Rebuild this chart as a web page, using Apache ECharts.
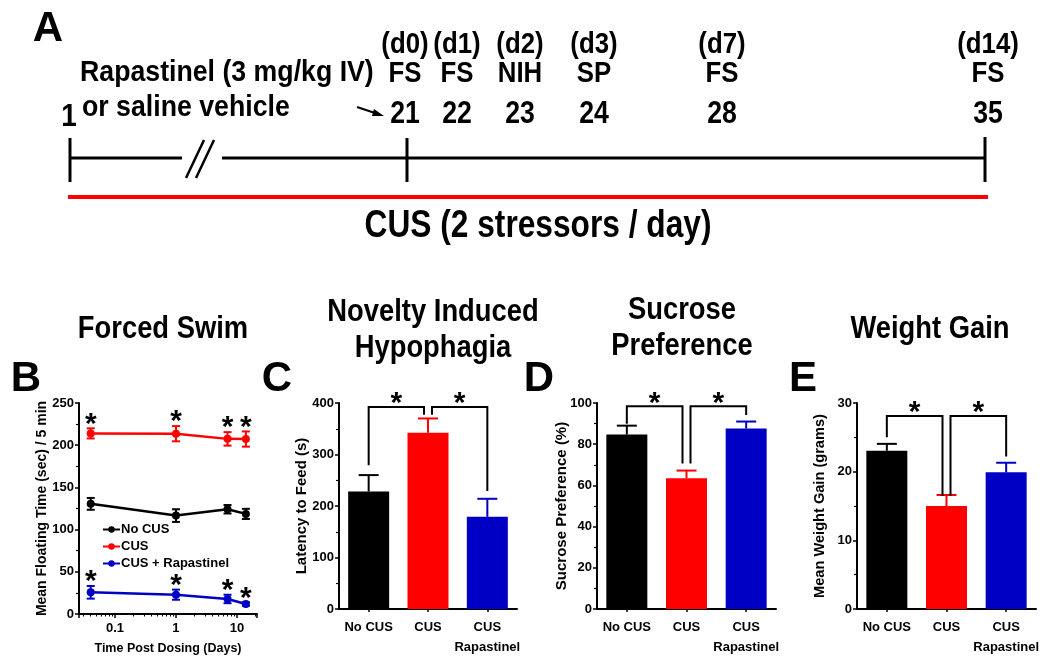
<!DOCTYPE html>
<html>
<head>
<meta charset="utf-8">
<script src="https://cdn.jsdelivr.net/npm/echarts@6/dist/echarts.min.js"></script>
<style>
  html, body { margin: 0; padding: 0; background: #fff; }
  #chart { width: 1050px; height: 657px; }
</style>
</head>
<body>
<div id="chart"></div>
<script>
// ---------- DATA ----------
// Panel A (timeline schematic)
const timelineDays = ['21', '22', '23', '24', '28', '35'];
const timelineTests = ['FS', 'FS', 'NIH', 'SP', 'FS', 'FS'];
const timelinePost = ['(d0)', '(d1)', '(d2)', '(d3)', '(d7)', '(d14)'];

// Panel B: Forced swim (time post dosing, days)
const fsDays = [0.04, 1, 7, 14];
const fsNoCUS = [130.5, 116.6, 124.1, 118.6];
const fsNoCUSErr = [7, 7.5, 5, 6];
const fsCUS = [214, 213.6, 207.5, 207.3];
const fsCUSErr = [6, 9, 8, 9];
const fsRap = [25.7, 22.9, 17.8, 11.8];
const fsRapErr = [7.5, 6, 5, 2];
const fsCUSSig = [1, 1, 1, 1];
const fsRapSig = [1, 1, 1, 1];

// Panels C-E: groups
const groups = ['No CUS', 'CUS', 'CUS\nRapastinel'];
const nihMean = [228, 342, 179];
const nihErr = [32, 28, 35];
const spMean = [84.7, 63.5, 87.6];
const spErr = [4.3, 3.7, 3.4];
const wgMean = [23.05, 15.0, 19.9];
const wgErr = [1.0, 1.6, 1.4];
// brackets: [fromGroup, toGroup, topValue, leftLegBottom, rightLegBottom]
const nihBrackets = [[0, 1, 392, 279, 377], [1, 2, 392, 377, 229]];
const spBrackets = [[0, 1, 98.4, 89.9, 70.6], [1, 2, 98.4, 70.6, 94.2]];
const wgBrackets = [[0, 1, 28.1, 25.0, 16.5], [1, 2, 28.1, 16.5, 22.2]];

// ---------- STYLE ----------
const FONT = "'Liberation Sans', Arial, sans-serif";
const BLACK = '#000000', RED = '#ff0000', BLUE = '#0000c4';
const groupColors = [BLACK, RED, BLUE];
const font = (size) => 'bold ' + size + 'px ' + FONT;
const LBL = 13;

const chart = echarts.init(document.getElementById('chart'), null, { renderer: 'canvas' });

function axisCommon() {
  return {
    axisLine: { show: true, lineStyle: { color: '#000', width: 2 } },
    axisTick: { show: true, length: 4, lineStyle: { color: '#000', width: 1.5 } },
    axisLabel: { color: '#000', fontWeight: 'bold', fontSize: LBL, fontFamily: FONT, margin: 5 },
    splitLine: { show: false }
  };
}
function yAxis(gi, max, interval, name, nameSize, gap) {
  return Object.assign(axisCommon(), {
    type: 'value', gridIndex: gi, min: 0, max: max, interval: interval,
    minorTick: { show: true, splitNumber: 2, length: 3, lineStyle: { color: '#000', width: 1.2 } },
    name: name, nameLocation: 'middle', nameRotate: 90, nameGap: gap, nameMoveOverlap: false,
    nameTextStyle: { color: '#000', fontWeight: 'bold', fontSize: nameSize, fontFamily: FONT }
  });
}
function catAxis(gi) {
  const a = axisCommon();
  a.axisTick = { show: true, alignWithLabel: true, length: 3, lineStyle: { color: '#000', width: 1.5 } };
  a.axisLabel = Object.assign(a.axisLabel, { interval: 0, lineHeight: 20, margin: 8 });
  return Object.assign(a, { type: 'category', gridIndex: gi, data: groups, boundaryGap: true });
}

function starText(x, y) {
  return { type: 'text', style: { text: '*', x: x, y: y, font: font(30), fill: '#000',
    align: 'center', verticalAlign: 'middle', textAlign: 'center', textVerticalAlign: 'middle' } };
}
// error bars for line chart (both directions) + significance
function lineErrRender(color, sig) {
  return function (params, api) {
    const x = api.value(0), lo = api.value(1), hi = api.value(2);
    const pHi = api.coord([x, hi]), pLo = api.coord([x, lo]);
    const hw = 4;
    const ls = { stroke: color, lineWidth: 2 };
    const ch = [
      { type: 'line', shape: { x1: pHi[0], y1: pHi[1], x2: pLo[0], y2: pLo[1] }, style: ls },
      { type: 'line', shape: { x1: pHi[0] - hw, y1: pHi[1], x2: pHi[0] + hw, y2: pHi[1] }, style: ls },
      { type: 'line', shape: { x1: pLo[0] - hw, y1: pLo[1], x2: pLo[0] + hw, y2: pLo[1] }, style: ls }
    ];
    if (sig[params.dataIndex]) ch.push(starText(pHi[0], pHi[1] - 4));
    return { type: 'group', children: ch };
  };
}
// upper-only error bars for bar charts
function barErrRender(params, api) {
  const i = api.value(0), m = api.value(1), hi = api.value(2);
  const pHi = api.coord([i, hi]), pM = api.coord([i, m]);
  const color = groupColors[i];
  const hw = 10;
  const ls = { stroke: color, lineWidth: 2 };
  return { type: 'group', children: [
    { type: 'line', shape: { x1: pM[0], y1: pM[1], x2: pHi[0], y2: pHi[1] }, style: ls },
    { type: 'line', shape: { x1: pHi[0] - hw, y1: pHi[1], x2: pHi[0] + hw, y2: pHi[1] }, style: ls }
  ] };
}
function bracketRender(all) {
  return function (params, api) {
    const i0 = api.value(0), i1 = api.value(1), top = api.value(2), b0 = api.value(3), b1 = api.value(4);
    const shared = (c) => all.filter(b => b[0] === c || b[1] === c).length > 1;
    const off0 = shared(i0) ? 4 : 0, off1 = shared(i1) ? -4 : 0;
    const pT0 = api.coord([i0, top]), pT1 = api.coord([i1, top]);
    const pB0 = api.coord([i0, b0]), pB1 = api.coord([i1, b1]);
    const x0 = pT0[0] + off0, x1 = pT1[0] + off1;
    const ls = { stroke: '#000', lineWidth: 2, fill: null };
    return { type: 'group', children: [
      { type: 'polyline', shape: { points: [[x0, pB0[1]], [x0, pT0[1]], [x1, pT1[1]], [x1, pB1[1]]] }, style: ls },
      starText((x0 + x1) / 2, pT0[1] - 3)
    ] };
  };
}

const fsPairs = (vals) => fsDays.map((d, i) => [d, vals[i]]);
const fsErrRows = (vals, errs) => fsDays.map((d, i) => [d, vals[i] - errs[i], vals[i] + errs[i]]);
const barRows = (mean) => mean.map((m, i) => ({ value: m, itemStyle: { color: groupColors[i] } }));
const barErrRows = (mean, err) => mean.map((m, i) => [i, m, m + err[i]]);

// ---------- GRAPHIC (schematic + titles) ----------
const g = [];
function txt(text, x, y, size, sx, align) {
  g.push({ type: 'text', x: x, y: y, scaleX: sx || 1, silent: true,
    style: { text: text, font: font(size), fill: '#000',
      align: align || 'center', verticalAlign: 'middle', textAlign: align || 'center', textVerticalAlign: 'middle',
      lineHeight: Math.round(size * 1.12) } });
}
function seg(x1, y1, x2, y2, color, w) {
  g.push({ type: 'line', silent: true, shape: { x1: x1, y1: y1, x2: x2, y2: y2 }, style: { stroke: color, lineWidth: w } });
}
// panel letters
txt('A', 48, 29, 42);
txt('B', 26, 379, 42);
txt('C', 277, 379, 42);
txt('D', 539, 379, 42);
txt('E', 803, 379, 42);
// panel A
txt('Rapastinel (3 mg/kg IV)', 80, 73, 30, 0.89, 'left');
txt('or saline vehicle', 82, 108, 30, 0.89, 'left');
txt('1', 69, 117, 31, 0.9);
const colX = [405, 457, 520, 594, 722, 988];
colX.forEach((x, i) => {
  txt(timelinePost[i], x, 45, 30, 0.86);
  txt(timelineTests[i], x, 74, 30, 0.86);
  txt(timelineDays[i], x, 114, 31, 0.86);
});
seg(70, 158, 182, 158, BLACK, 3);
seg(222, 158, 985, 158, BLACK, 3);
seg(70, 138, 70, 182, BLACK, 3);
seg(407, 138, 407, 182, BLACK, 3);
seg(985, 137, 985, 182, BLACK, 3);
seg(204, 140, 186, 178, BLACK, 2.5);
seg(214, 140, 196, 178, BLACK, 2.5);
seg(68, 197, 988, 197, RED, 4);
txt('CUS (2 stressors / day)', 538, 227, 38, 0.834);
// arrow
seg(357, 107, 378, 114, BLACK, 2);
g.push({ type: 'polygon', silent: true, shape: { points: [[384, 116], [374, 109], [372, 116]] }, style: { fill: BLACK } });
// panel titles
txt('Forced Swim', 163, 329, 32, 0.855);
txt('Novelty Induced\nHypophagia', 433, 330, 32, 0.855);
txt('Sucrose\nPreference', 682, 328, 32, 0.855);
txt('Weight Gain', 930, 329, 32, 0.855);

const option = {
  backgroundColor: '#ffffff',
  animation: false,
  grid: [
    { left: 79, top: 403, width: 178, height: 211 },
    { left: 339, top: 403, width: 178, height: 211 },
    { left: 597, top: 403, width: 179, height: 211 },
    { left: 857, top: 403, width: 179, height: 211 }
  ],
  legend: {
    left: 97, top: 518, orient: 'vertical', itemGap: 4, itemWidth: 17, itemHeight: 8,
    data: ['No CUS', 'CUS', 'CUS + Rapastinel'],
    textStyle: { color: '#000', fontWeight: 'bold', fontSize: 13, fontFamily: FONT, padding: [0, 0, 0, -4] }
  },
  xAxis: [
    Object.assign(axisCommon(), {
      type: 'log', logBase: 10, gridIndex: 0, min: 0.0257, max: 21.3,
      minorTick: { show: true, splitNumber: 9, length: 2.5, lineStyle: { color: '#000', width: 1 } },
      axisLabel: { color: '#000', fontWeight: 'bold', fontSize: LBL, fontFamily: FONT, margin: 8,
        showMinLabel: false, showMaxLabel: false, formatter: (v) => String(+(+v).toPrecision(3)) },
      name: 'Time Post Dosing (Days)', nameLocation: 'middle', nameGap: 28, nameMoveOverlap: false,
      nameTextStyle: { color: '#000', fontWeight: 'bold', fontSize: 12.5, fontFamily: FONT }
    }),
    catAxis(1), catAxis(2), catAxis(3)
  ],
  yAxis: [
    yAxis(0, 250, 50, 'Mean Floating Time (sec) / 5 min', 14, 30),
    yAxis(1, 400, 100, 'Latency to Feed (s)', 15, 30),
    yAxis(2, 100, 20, 'Sucrose Preference (%)', 15, 28),
    yAxis(3, 30, 10, 'Mean Weight Gain (grams)', 14.6, 30)
  ],
  series: [
    { name: 'No CUS', type: 'line', xAxisIndex: 0, yAxisIndex: 0, data: fsPairs(fsNoCUS),
      symbol: 'circle', symbolSize: 8, itemStyle: { color: BLACK }, lineStyle: { color: BLACK, width: 2.5 }, z: 3 },
    { name: 'CUS', type: 'line', xAxisIndex: 0, yAxisIndex: 0, data: fsPairs(fsCUS),
      symbol: 'circle', symbolSize: 8, itemStyle: { color: RED }, lineStyle: { color: RED, width: 2.5 }, z: 3 },
    { name: 'CUS + Rapastinel', type: 'line', xAxisIndex: 0, yAxisIndex: 0, data: fsPairs(fsRap),
      symbol: 'circle', symbolSize: 8, itemStyle: { color: BLUE }, lineStyle: { color: BLUE, width: 2.5 }, z: 3 },
    { type: 'custom', xAxisIndex: 0, yAxisIndex: 0, data: fsErrRows(fsNoCUS, fsNoCUSErr), renderItem: lineErrRender(BLACK, [0, 0, 0, 0]), z: 4, silent: true },
    { type: 'custom', xAxisIndex: 0, yAxisIndex: 0, data: fsErrRows(fsCUS, fsCUSErr), renderItem: lineErrRender(RED, fsCUSSig), z: 4, silent: true },
    { type: 'custom', xAxisIndex: 0, yAxisIndex: 0, data: fsErrRows(fsRap, fsRapErr), renderItem: lineErrRender(BLUE, fsRapSig), z: 4, silent: true },

    { type: 'bar', xAxisIndex: 1, yAxisIndex: 1, data: barRows(nihMean), barWidth: 41 },
    { type: 'custom', xAxisIndex: 1, yAxisIndex: 1, data: barErrRows(nihMean, nihErr), renderItem: barErrRender, silent: true },
    { type: 'custom', xAxisIndex: 1, yAxisIndex: 1, data: nihBrackets, renderItem: bracketRender(nihBrackets), silent: true },

    { type: 'bar', xAxisIndex: 2, yAxisIndex: 2, data: barRows(spMean), barWidth: 41 },
    { type: 'custom', xAxisIndex: 2, yAxisIndex: 2, data: barErrRows(spMean, spErr), renderItem: barErrRender, silent: true },
    { type: 'custom', xAxisIndex: 2, yAxisIndex: 2, data: spBrackets, renderItem: bracketRender(spBrackets), silent: true },

    { type: 'bar', xAxisIndex: 3, yAxisIndex: 3, data: barRows(wgMean), barWidth: 41 },
    { type: 'custom', xAxisIndex: 3, yAxisIndex: 3, data: barErrRows(wgMean, wgErr), renderItem: barErrRender, silent: true },
    { type: 'custom', xAxisIndex: 3, yAxisIndex: 3, data: wgBrackets, renderItem: bracketRender(wgBrackets), silent: true }
  ],
  graphic: { elements: g }
};
chart.setOption(option);
</script>
</body>
</html>
